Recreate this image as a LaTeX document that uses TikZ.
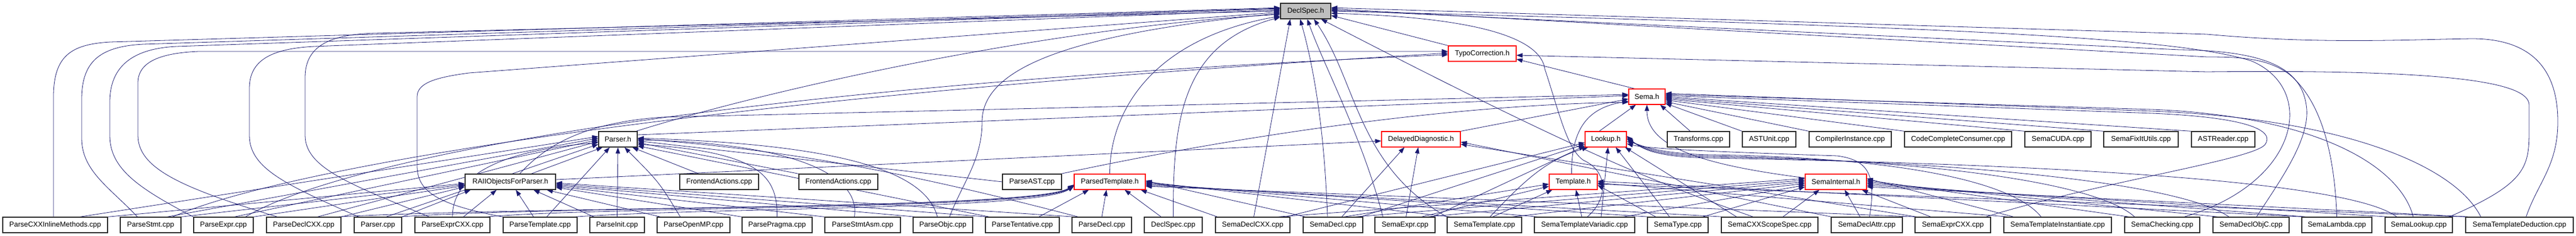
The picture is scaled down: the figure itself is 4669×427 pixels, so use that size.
\documentclass[tikz,border=0pt]{standalone}
\usepackage{fontspec}
\setmainfont{Liberation Sans}
\usetikzlibrary{arrows.meta,backgrounds,calc}
\definecolor{edgecol}{RGB}{25,25,112}
\definecolor{nodegray}{RGB}{191,191,191}
\newcommand{\aN}[2]{([xshift=#2pt]#1.north)}
\newcommand{\aS}[2]{([xshift=#2pt]#1.south)}
\newcommand{\aW}[2]{([yshift=#2pt]#1.west)}
\newcommand{\aE}[2]{([yshift=#2pt]#1.east)}
\begin{document}
\begin{tikzpicture}[x=1pt,y=-1pt,
  nd/.style={draw=black!85,line width=1.3pt,fill=white,minimum height=28pt,inner sep=0pt,font=\fontsize{13}{15}\selectfont},
  rd/.style={nd,draw=red,line width=1.1pt},
  e/.style={draw=edgecol,line width=0.8pt,-{Triangle[length=11pt,width=8pt]}}]
\useasboundingbox (0,0) rectangle (4669,427);
% row 0-2
\node[nd,fill=nodegray,minimum width=91pt] (D) at (2366.5,20) {DeclSpec.h};
\node[rd,minimum width=123pt] (TC) at (2686.5,97) {TypoCorrection.h};
\node[rd,minimum width=66pt] (S) at (2985,175) {Sema.h};
% row 3
\node[nd,minimum width=70pt] (PH) at (1120,252) {Parser.h};
\node[rd,minimum width=143pt] (DD) at (2575.5,252) {DelayedDiagnostic.h};
\node[rd,minimum width=75pt] (LH) at (2910.5,252) {Lookup.h};
\node[nd,minimum width=113pt] (TR) at (3078.5,252) {Transforms.cpp};
\node[nd,minimum width=97pt] (AU) at (3206.5,252) {ASTUnit.cpp};
\node[nd,minimum width=149pt] (CI) at (3353.5,252) {CompilerInstance.cpp};
\node[nd,minimum width=194pt] (CCC) at (3549,252) {CodeCompleteConsumer.cpp};
\node[nd,minimum width=120pt] (CUDA) at (3730,252) {SemaCUDA.cpp};
\node[nd,minimum width=135pt] (FIX) at (3880.5,252) {SemaFixItUtils.cpp};
\node[nd,minimum width=115pt] (ASTR) at (4029.5,252) {ASTReader.cpp};
% row 4
\node[nd,minimum width=164pt] (RAII) at (925,329) {RAIIObjectsForParser.h};
\node[nd,minimum width=143pt] (FA1) at (1303.5,329) {FrontendActions.cpp};
\node[nd,minimum width=143pt] (FA2) at (1519.5,329) {FrontendActions.cpp};
\node[nd,minimum width=107pt] (PAST) at (1870.5,329) {ParseAST.cpp};
\node[rd,minimum width=129pt] (PT) at (2011.5,329) {ParsedTemplate.h};
\node[rd,minimum width=87pt] (TH) at (2851.5,329) {Template.h};
\node[rd,minimum width=111pt] (SI) at (3327.5,329) {SemaInternal.h};
% row 5
\node[nd,minimum width=190pt] (pcim) at (100,407) {ParseCXXInlineMethods.cpp};
\node[nd,minimum width=110pt] (pstmt) at (273,407) {ParseStmt.cpp};
\node[nd,minimum width=108pt] (pexpr) at (405,407) {ParseExpr.cpp};
\node[nd,minimum width=135pt] (pdcxx) at (550.5,407) {ParseDeclCXX.cpp};
\node[nd,minimum width=86pt] (pcpp) at (685,407) {Parser.cpp};
\node[nd,minimum width=136pt] (pecxx) at (820,407) {ParseExprCXX.cpp};
\node[nd,minimum width=134pt] (ptpl) at (979,407) {ParseTemplate.cpp};
\node[nd,minimum width=99pt] (pinit) at (1118.5,407) {ParseInit.cpp};
\node[nd,minimum width=132pt] (pomp) at (1257,407) {ParseOpenMP.cpp};
\node[nd,minimum width=127pt] (ppra) at (1408.5,407) {ParsePragma.cpp};
\node[nd,minimum width=137pt] (pasm) at (1563.5,407) {ParseStmtAsm.cpp};
\node[nd,minimum width=108pt] (pobjc) at (1709,407) {ParseObjc.cpp};
\node[nd,minimum width=134pt] (ptent) at (1853,407) {ParseTentative.cpp};
\node[nd,minimum width=108pt] (pdecl) at (1997,407) {ParseDecl.cpp};
\node[nd,minimum width=105pt] (dscpp) at (2126.5,407) {DeclSpec.cpp};
\node[nd,minimum width=135pt] (sdcxx) at (2270.5,407) {SemaDeclCXX.cpp};
\node[nd,minimum width=108pt] (sdecl) at (2416,407) {SemaDecl.cpp};
\node[nd,minimum width=109pt] (sexpr) at (2546.5,407) {SemaExpr.cpp};
\node[nd,minimum width=135pt] (stpl) at (2690.5,407) {SemaTemplate.cpp};
\node[nd,minimum width=182pt] (stv) at (2872,407) {SemaTemplateVariadic.cpp};
\node[nd,minimum width=110pt] (stype) at (3041,407) {SemaType.cpp};
\node[nd,minimum width=175pt] (sscope) at (3207.5,407) {SemaCXXScopeSpec.cpp};
\node[nd,minimum width=129pt] (sattr) at (3383.5,407) {SemaDeclAttr.cpp};
\node[nd,minimum width=137pt] (secxx) at (3539.5,407) {SemaExprCXX.cpp};
\node[nd,minimum width=195pt] (sinst) at (3729.5,407) {SemaTemplateInstantiate.cpp};
\node[nd,minimum width=136pt] (schk) at (3919,407) {SemaChecking.cpp};
\node[nd,minimum width=138pt] (sobjc) at (4080,407) {SemaDeclObjC.cpp};
\node[nd,minimum width=127pt] (slam) at (4235.5,407) {SemaLambda.cpp};
\node[nd,minimum width=122pt] (slook) at (4384,407) {SemaLookup.cpp};
\node[nd,minimum width=195pt] (sded) at (4566.5,407) {SemaTemplateDeduction.cpp};

\begin{pgfonlayer}{background}
\fill[white] (0,0) rectangle (4669,427);
% Parser.h
\draw[e] \aN{RAII}{38} -- \aS{PH}{-28};
\draw[e] \aN{FA1}{-37} -- \aS{PH}{26};
\draw[e] (FA2.north west) -- \aE{PH}{-6};
\draw[e] (PAST.west) -- \aE{PH}{-3};
\draw[e] (pinit.north) -- (PH.south);
\draw[e] \aN{ptpl}{12} -- \aS{PH}{-15};
\draw[e] \aN{pomp}{-24} .. controls (1195,330) .. \aS{PH}{12};
\draw[e] (ppra.north) .. controls (1409,320) and (1380,275) .. \aE{PH}{-9};
\draw[e] (pecxx.north) .. controls (820,330) and (880,275) .. \aW{PH}{-6};
\draw[e] \aN{pasm}{-15} .. controls (1560,320) and (1450,260) .. \aE{PH}{-1};
\draw[e] \aN{pobjc}{-10} .. controls (1680,320) and (1560,262) .. \aE{PH}{2};
\draw[e] \aN{ptent}{-60} -- \aE{PH}{-12};
\draw[e] \aN{pdecl}{-43} .. controls (1600,300) and (1400,270) .. \aE{PH}{1};
\draw[e] \aN{pcpp}{15} -- \aW{PH}{-9};
\draw[e] \aN{pdcxx}{25} -- \aW{PH}{-4};
\draw[e] \aN{pexpr}{20} -- \aW{PH}{-1};
\draw[e] \aN{pstmt}{30} -- \aW{PH}{2};
\draw[e] \aN{pcim}{45} -- \aW{PH}{5};
% RAIIObjectsForParser.h
\draw[e] (pcim.north east) -- \aW{RAII}{-3};
\draw[e] (pstmt.north east) -- \aW{RAII}{-5};
\draw[e] (pexpr.north east) -- \aW{RAII}{-7};
\draw[e] (pdcxx.north east) -- \aW{RAII}{-9};
\draw[e] (pcpp.north east) -- \aS{RAII}{-72};
\draw[e] \aN{pecxx}{20} -- \aS{RAII}{-25};
\draw[e] \aN{ptpl}{-12} -- \aS{RAII}{10};
\draw[e] \aN{pinit}{-42} -- \aS{RAII}{42};
\draw[e] \aN{pomp}{-60} -- \aS{RAII}{66};
\draw[e] (ppra.north west) -- \aE{RAII}{-10};
\draw[e] (pasm.north west) -- \aE{RAII}{-8};
\draw[e] \aN{pobjc}{-50} -- \aE{RAII}{-6};
\draw[e] \aN{ptent}{-64} -- \aE{RAII}{-4};
\draw[e] \aN{pdecl}{-50} -- \aE{RAII}{-2};
% ParsedTemplate.h
\draw[e] \aN{pdcxx}{60} .. controls (1000,372) and (1880,380) .. \aW{PT}{-5};
\draw[e] \aN{pcpp}{40} .. controls (1000,372) and (1880,380) .. \aW{PT}{-6};
\draw[e] \aN{pecxx}{62} .. controls (1100,373) and (1880,380) .. \aW{PT}{-7};
\draw[e] \aN{ptpl}{62} .. controls (1300,375) and (1880,380) .. \aW{PT}{-8};
\draw[e] \aN{ptent}{30} -- \aS{PT}{-38};
\draw[e] (pdecl.north) -- \aS{PT}{-6};
\draw[e] \aN{dscpp}{-22} -- \aS{PT}{27};
\draw[e] \aN{sdcxx}{-64} -- \aS{PT}{56};
\draw[e] \aN{sdecl}{-50} -- \aE{PT}{2};
\draw[e] \aN{stpl}{-62} -- \aE{PT}{0};
\draw[e] \aN{stv}{-85} -- \aE{PT}{-2};
\draw[e] \aN{stype}{-52} -- \aE{PT}{-4};
\draw[e] \aN{sscope}{-84} -- \aE{PT}{-6};
\draw[e] \aN{secxx}{-66} -- \aE{PT}{-8};
\draw[e] (PT.north) .. controls (2011,200) and (2090,70) .. \aW{D}{-9};
% DeclSpec.h from the left
\draw[e] \aN{pcim}{-3} -- (97,175) .. controls (97,100) and (130,80) .. (200,76) -- \aW{D}{6};
\draw[e] \aN{pstmt}{-24} .. controls (200,340) and (148,310) .. (148,250) -- (148,180) .. controls (148,112) and (180,84) .. (260,80) -- \aW{D}{5};
\draw[e] (pexpr.north west) .. controls (250,340) and (199,305) .. (199,245) -- (199,185) .. controls (199,120) and (240,88) .. (320,84) -- \aW{D}{4};
\draw[e] \aN{pcpp}{-35} .. controls (520,335) and (452,305) .. (452,245) -- (452,160) .. controls (452,110) and (490,88) .. (570,84) -- \aW{D}{2};
\draw[e] \aN{pecxx}{-42} .. controls (640,335) and (553,305) .. (553,245) -- (553,140) .. controls (553,82) and (600,62) .. (680,60) -- \aW{D}{0};
\draw[e] (ptpl.north west) .. controls (790,370) and (756,345) .. (756,300) -- (756,175) .. controls (756,150) and (790,140) .. (850,132) -- \aW{D}{-2};
\draw[e] \aN{pobjc}{12} .. controls (1745,330) and (1780,290) .. (1780,220) .. controls (1780,120) and (1950,60) .. \aW{D}{-4};
\draw[e] \aN{PH}{33} .. controls (1400,160) and (1900,50) .. \aW{D}{-6};
\draw[e] (dscpp.north) .. controls (2126,220) and (2140,80) .. \aW{D}{-11};
% DeclSpec.h from below
\draw[e] \aN{sdcxx}{2} -- \aS{D}{-28};
\draw[e] \aN{sdecl}{-10} .. controls (2400,220) and (2378,110) .. \aS{D}{-10};
\draw[e] \aN{sexpr}{-40} .. controls (2470,250) and (2400,120) .. \aS{D}{3};
\draw[e] (stpl.north west) .. controls (2460,300) and (2460,150) .. \aS{D}{15};
\draw[e] \aN{sscope}{-30} .. controls (3000,330) and (2860,275) .. \aS{D}{28};
% DeclSpec.h from the right
\draw[e] (TC.north west) -- \aE{D}{-8};
\draw[e] \aN{stv}{5} .. controls (2915,360) and (2915,310) .. (2870,290) .. controls (2840,270) and (2825,200) .. (2800,125) .. controls (2790,55) and (2620,30) .. \aE{D}{-4};
\draw[e] \aN{schk}{40} .. controls (4170,330) and (4200,160) .. (4080,110) .. controls (3950,70) and (3600,50) .. \aE{D}{0};
\draw[e] \aN{sobjc}{10} .. controls (4130,330) and (4190,250) .. (4180,190) .. controls (4170,120) and (4100,92) .. (3950,90) -- \aE{D}{2};
\draw[e] (slam.north) .. controls (4232,300) and (4215,190) .. (4150,135) .. controls (4110,105) and (4060,103) .. (4000,103) -- \aE{D}{4};
\draw[e] \aN{sded}{12} .. controls (4600,330) and (4636,300) .. (4636,220) .. controls (4636,100) and (4560,70) .. (4480,70) .. controls (4350,72) and (4200,80) .. (4000,62) -- \aE{D}{6};
% TypoCorrection.h
\draw[e] \aN{pdcxx}{-48} .. controls (330,340) and (250,305) .. (250,245) -- (250,150) .. controls (250,112) and (290,96) .. (360,93) -- \aW{TC}{4};
\draw[e] \aN{pstmt}{40} .. controls (500,310) and (1200,180) .. \aW{TC}{1};
\draw[e] \aN{pexpr}{40} .. controls (600,300) and (1200,160) .. \aW{TC}{-2};
\draw[e] \aN{slook}{55} .. controls (4584,330) and (4584,300) .. (4584,230) -- (4584,190) .. controls (4584,150) and (4450,125) .. (4000,130) -- \aE{TC}{-3};
\draw[e] \aN{S}{-22} -- \aE{TC}{-10};
% Sema.h
\draw[e] \aE{PH}{8} -- \aW{S}{2};
\draw[e] \aN{RAII}{17} .. controls (990,262) and (1060,222) .. (1200,212) -- \aW{S}{4};
\draw[e] (DD.north east) -- \aW{S}{-4};
\draw[e] \aN{LH}{-12} -- \aS{S}{-20};
\draw[e] \aN{TH}{-3} .. controls (2848,230) and (2880,195) .. \aW{S}{-8};
\draw[e] \aW{SI}{7} .. controls (3100,300) and (2985,270) .. (S.south);
\draw[e] \aN{TR}{-15} -- \aS{S}{24};
\draw[e] (AU.north west) -- \aE{S}{-12};
\draw[e] (CI.north west) -- \aE{S}{-9};
\draw[e] (CCC.north west) -- \aE{S}{-6};
\draw[e] (CUDA.north west) -- \aE{S}{-4};
\draw[e] (FIX.north west) -- \aE{S}{-2};
\draw[e] (ASTR.north west) -- \aE{S}{0};
\draw[e] \aN{PAST}{53} .. controls (2200,255) and (2600,190) .. \aW{S}{-10};
\draw[e] \aN{secxx}{60} .. controls (3800,330) and (4080,290) .. (4105,262) .. controls (4125,235) and (4070,212) .. (3900,205) -- \aE{S}{2};
\draw[e] \aN{slook}{-10} .. controls (4350,300) and (4200,210) .. (3900,198) -- \aE{S}{4};
\draw[e] \aN{sded}{-70} .. controls (4450,300) and (4250,215) .. (3900,201) -- \aE{S}{6};
% Lookup.h
\draw[e] \aN{sdcxx}{60} -- \aW{LH}{-6};
\draw[e] \aN{sdecl}{50} -- \aW{LH}{-9};
\draw[e] \aN{sexpr}{50} -- \aW{LH}{-12};
\draw[e] \aN{stpl}{10} .. controls (2760,330) and (2800,290) .. \aS{LH}{-32};
\draw[e] \aN{stv}{30} -- \aS{LH}{4};
\draw[e] \aN{stype}{-15} -- \aS{LH}{18};
\draw[e] \aN{sscope}{-60} -- \aS{LH}{35};
\draw[e] \aN{sattr}{5} .. controls (3400,320) and (3390,290) .. (3330,282) .. controls (3150,276) and (2990,270) .. \aE{LH}{-8};
\draw[e] \aN{sinst}{-30} .. controls (3650,330) and (3450,285) .. (3100,280) .. controls (3000,278) and (2975,262) .. \aE{LH}{-4};
\draw[e] \aN{schk}{-50} .. controls (3800,330) and (3500,290) .. (3100,282) .. controls (3000,280) and (2975,265) .. \aE{LH}{0};
\draw[e] \aN{sobjc}{-40} .. controls (3950,330) and (3550,292) .. (3100,284) .. controls (3000,282) and (2975,268) .. \aE{LH}{3};
\draw[e] \aN{slook}{-40} .. controls (4250,320) and (3600,295) .. (3100,286) .. controls (3000,284) and (2975,270) .. \aE{LH}{6};
% SemaInternal.h
\draw[e] \aN{sdcxx}{45} -- \aW{SI}{6};
\draw[e] \aN{sdecl}{40} -- \aW{SI}{3};
\draw[e] \aN{sexpr}{40} -- \aW{SI}{0};
\draw[e] \aN{stpl}{50} -- \aW{SI}{-3};
\draw[e] \aN{stv}{70} -- \aW{SI}{-6};
\draw[e] \aN{stype}{45} -- \aW{SI}{-9};
\draw[e] \aN{sscope}{24} -- \aS{SI}{-30};
\draw[e] \aN{sattr}{-12} -- \aS{SI}{16};
\draw[e] \aN{secxx}{-40} -- \aS{SI}{47};
\draw[e] \aN{sinst}{-80} -- \aE{SI}{6};
\draw[e] \aN{schk}{-60} -- \aE{SI}{3};
\draw[e] \aN{sobjc}{-60} -- \aE{SI}{0};
\draw[e] \aN{slam}{-55} -- \aE{SI}{-3};
\draw[e] \aN{slook}{-55} -- \aE{SI}{-6};
\draw[e] \aN{sded}{-90} -- \aE{SI}{-9};
% Template.h
\draw[e] \aN{stpl}{15} -- \aS{TH}{-38};
\draw[e] \aN{sexpr}{30} -- \aW{TH}{-8};
\draw[e] \aN{sdecl}{20} -- \aW{TH}{-4};
\draw[e] \aN{stv}{-5} -- \aS{TH}{5};
\draw[e] \aN{stype}{-40} -- \aE{TH}{-6};
\draw[e] \aN{sinst}{-90} -- \aE{TH}{-2};
\draw[e] \aN{slam}{-60} -- \aE{TH}{1};
\draw[e] \aN{sded}{-95} -- \aE{TH}{-4};
% DelayedDiagnostic.h
\draw[e] \aE{RAII}{4} -- \aW{DD}{-3};
\draw[e] \aN{sdecl}{16} -- \aS{DD}{-30};
\draw[e] \aN{sexpr}{2} -- \aS{DD}{-5};
\draw[e] \aN{sattr}{-64} -- \aE{DD}{-5};
\draw[e] \aN{secxx}{-66} -- \aE{DD}{-9};
\end{pgfonlayer}
\end{tikzpicture}
\end{document}
